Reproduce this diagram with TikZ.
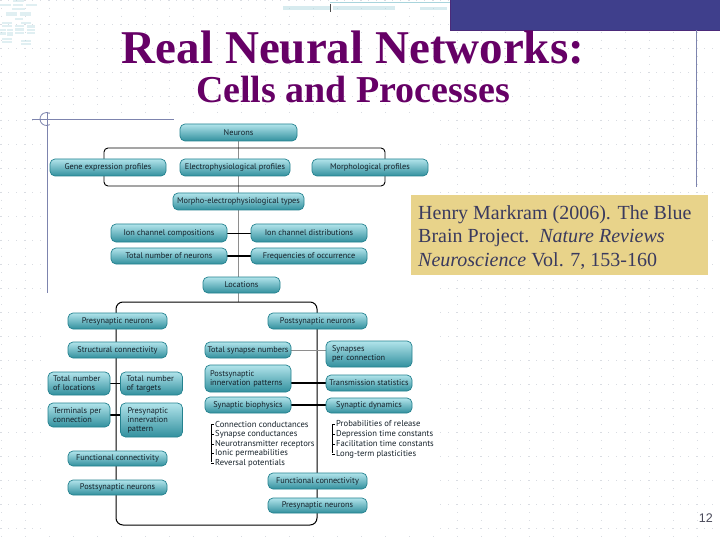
\documentclass[tikz,border=0pt]{standalone}
\usepackage{fontspec}
\setmainfont{Liberation Serif}
\newfontfamily\dfont{PT Sans}
\newfontfamily\pfont{Liberation Sans}
\definecolor{titlec}{HTML}{660066}
\definecolor{bandc}{HTML}{3F3F8C}
\definecolor{bandedge}{HTML}{4B2A7A}
\definecolor{decoc}{HTML}{7D84AE}
\definecolor{gridc}{HTML}{D9DCE2}
\definecolor{citec}{HTML}{E8D38A}
\definecolor{citetext}{HTML}{3A3A5E}
\definecolor{nedge}{HTML}{24828F}
\definecolor{ntop}{HTML}{B2E4EB}
\definecolor{nbot}{HTML}{32909E}
\definecolor{ntext}{HTML}{15212A}
\definecolor{vlinec}{HTML}{8E8E8E}
\definecolor{thumbc}{HTML}{A8D4DC}
\definecolor{pagec}{HTML}{4A4A5A}
\pgfdeclarelayer{gridlayer}
\pgfdeclarelayer{bg}
\pgfsetlayers{gridlayer,bg,main}
\begin{document}
\begin{tikzpicture}[x=1pt,y=-1pt,
  nbox/.style={draw=nedge, line width=0.7pt, rounded corners=5pt, top color=ntop, bottom color=nbot,
    text=ntext, font=\dfont\fontsize{8.3}{9}\selectfont, inner sep=0pt, align=center},
  lbox/.style={nbox, align=left},
  sz/.style 2 args={minimum width=#1pt, minimum height=#2pt},
  link/.style={draw=black, line width=0.9pt},
  tlink/.style={draw=black, line width=1.6pt},
  glink/.style={draw=vlinec, line width=0.8pt},
  listtxt/.style={text=ntext, font=\dfont\fontsize{8.6}{9}\selectfont, inner sep=0pt, anchor=west},
  deco/.style={draw=decoc, line width=0.8pt}
]
\useasboundingbox (0,0) rectangle (720,540);

% ---------- background ----------
\begin{pgfonlayer}{gridlayer}
  \fill[white] (0,0) rectangle (720,540);
  \foreach \x in {1,25,...,721}
    \draw[gridc, line width=0.7pt, dash pattern=on 0.7pt off 7.3pt] (\x,0) -- (\x,540);
  \foreach \y in {0,24,...,540}
    \draw[gridc, line width=0.7pt, dash pattern=on 0.7pt off 7.3pt] (0,\y) -- (720,\y);
  % diagram image area
  \fill[white] (45,119) rectangle (440,530);
  % top band
  \fill[bandc] (450,0) rectangle (720,30);
  \draw[bandedge, line width=0.8pt] (450,0) -- (450,30) -- (720,30);
  % decorative lines
  \draw[deco] (696,30) -- (696,187);
  \draw[deco] (32,119) -- (174,119);
  \draw[deco] (47,112) -- (47,293);
  \draw[deco] (46.5,119) ++(60:6.5) arc[start angle=60, end angle=300, radius=6.5];
  % faint thumbnails
  \foreach \cx/\cy/\w/\h in {238.5/132.5/117/17, 108/167.5/116/17, 235/167.5/110/17, 370/167.5/116/17,
      238.5/201.5/131/17, 169/233/116/18, 309/233/116/18, 169/256/116/16, 309/256/116/16, 241.5/285/77/16,
      117.5/321/99/16, 117.5/350/99/16, 79/383.5/62/23, 151.5/383.5/62/23, 79/415/62/24, 151.5/420/62/34,
      117.5/458.5/99/15, 117.5/487.5/99/15, 317.5/321/99/16, 248/350/86/16, 369/354/86/26, 248/378.5/86/27,
      369/383/86/16, 248/405/86/16, 369/405.5/86/15, 317.5/481/99/16, 317.5/505.5/99/15}
    \fill[thumbc, opacity=0.35] ({(\cx-\w/2-48)*0.097},{(\cy-\h/2-124)*0.116}) rectangle ++({\w*0.097},{\h*0.116});
  \fill[thumbc, opacity=0.45] (283,6) rectangle (330,10);
  \fill[thumbc, opacity=0.45] (333,6) rectangle (395,10);
  \fill[thumbc, opacity=0.45] (420,7) rectangle (447,10);
  \draw[thumbc, line width=0.6pt] (330,2) -- (450,2);
  \draw[black!70, line width=0.8pt] (330,4) -- (330,12);
\end{pgfonlayer}

% ---------- title ----------
\node[font=\fontsize{47}{50}\selectfont\bfseries, text=titlec, anchor=base, inner sep=0pt] (t1) at (353,64) {Real Neural Networks:};
\node[font=\fontsize{38}{40}\selectfont\bfseries, text=titlec, anchor=base, inner sep=0pt] (t2) at (353,103) {Cells and Processes};

% ---------- citation ----------
\fill[citec] (411,195) rectangle (708,275);
\node[font=\fontsize{20}{23}\selectfont, text=citetext, anchor=base west, inner sep=0pt] (c1) at (418,219) {Henry Markram (2006). The Blue};
\node[font=\fontsize{20}{23}\selectfont, text=citetext, anchor=base west, inner sep=0pt] (c2) at (418,243) {Brain Project.\ \ \textit{Nature Reviews}};
\node[font=\fontsize{20}{23}\selectfont, text=citetext, anchor=base west, inner sep=0pt] (c3) at (418,266) {\textit{Neuroscience} Vol. 7, 153-160};

% ---------- page number ----------
\node[font=\pfont\fontsize{12.5}{13}\selectfont, text=pagec, anchor=base east, inner sep=0pt] (pg) at (713,522) {12};

% ---------- upper diagram ----------
\node[nbox, sz={117}{17}] (neurons) at (238.5,132.5) {Neurons};
\node[nbox, sz={116}{17}] (gene) at (108,167.5) {Gene expression profiles};
\node[nbox, sz={110}{17}] (electro) at (235,167.5) {Electrophysiological profiles};
\node[nbox, sz={116}{17}] (morph) at (370,167.5) {Morphological profiles};
\node[nbox, sz={131}{17}] (mtypes) at (238.5,201.5) {Morpho-electrophysiological types};
\node[nbox, sz={116}{18}] (ioncomp) at (169,233) {Ion channel compositions};
\node[nbox, sz={116}{18}] (iondist) at (309,233) {Ion channel distributions};
\node[nbox, sz={116}{16}] (totneur) at (169,256) {Total number of neurons};
\node[nbox, sz={116}{16}] (freq) at (309,256) {Frequencies of occurrence};
\node[nbox, sz={77}{16}] (loc) at (241.5,285) {Locations};

% ---------- lower diagram ----------
\node[nbox, sz={99}{16}] (pre1) at (117.5,321) {Presynaptic neurons};
\node[nbox, sz={99}{16}] (struct) at (117.5,350) {Structural connectivity};
\node[lbox, sz={62}{23}, text width=52pt] (totloc) at (79,383.5) {Total number\\of locations};
\node[lbox, sz={62}{23}, text width=50pt] (tottarg) at (151.5,383.5) {Total number\\of targets};
\node[lbox, sz={62}{24}, text width=52pt] (term) at (79,415) {Terminals per\\connection};
\node[lbox, sz={62}{34}, text width=48pt] (preinn) at (151.5,420) {Presynaptic\\innervation\\pattern};
\node[nbox, sz={99}{15}] (func1) at (117.5,458.5) {Functional connectivity};
\node[nbox, sz={99}{15}] (post1) at (117.5,487.5) {Postsynaptic neurons};

\node[nbox, sz={99}{16}] (post2) at (317.5,321) {Postsynaptic neurons};
\node[nbox, sz={86}{16}] (totsyn) at (248,350) {Total synapse numbers};
\node[lbox, sz={86}{26}, text width=74pt] (synper) at (369,354) {Synapses\\per connection};
\node[lbox, sz={86}{27}, text width=76pt] (postinn) at (248,378.5) {Postsynaptic\\innervation patterns};
\node[nbox, sz={86}{16}] (trans) at (369,383) {Transmission statistics};
\node[nbox, sz={86}{16}] (biophys) at (248,405) {Synaptic biophysics};
\node[nbox, sz={86}{15}] (dyn) at (369,405.5) {Synaptic dynamics};
\node[nbox, sz={99}{16}] (func2) at (317.5,481) {Functional connectivity};
\node[nbox, sz={99}{15}] (pre2) at (317.5,505.5) {Presynaptic neurons};

% lists
\node[listtxt] (la1) at (215,424) {Connection conductances};
\node[listtxt] (la2) at (215,434) {Synapse conductances};
\node[listtxt] (la3) at (215,444) {Neurotransmitter receptors};
\node[listtxt] (la4) at (215,453.5) {Ionic permeabilities};
\node[listtxt] (la5) at (215,463) {Reversal potentials};
\node[listtxt] (lb1) at (336,424) {Probabilities of release};
\node[listtxt] (lb2) at (336,434) {Depression time constants};
\node[listtxt] (lb3) at (336,444) {Facilitation time constants};
\node[listtxt] (lb4) at (336,454) {Long-term plasticities};

\coordinate (ftop) at (239,302);
\coordinate (fnw) at (116,302);
\coordinate (fse) at (317,525);
\coordinate (bnw) at (104,148);
\coordinate (bse) at (385,186);
\coordinate (ba) at (211,0);
\coordinate (bb) at (332,0);

% ---------- connectors ----------
\begin{pgfonlayer}{bg}
  \draw[vlinec, line width=1.3pt] (neurons.south) -- (neurons.south |- ftop);
  \draw[black, line width=0.9pt, rounded corners=4pt] (bnw) rectangle (bse);
  \draw[black, line width=1pt, rounded corners=7pt] (fnw) rectangle (fse);
  \draw[link] (ioncomp.east) -- (iondist.west);
  \draw[tlink] (totneur.east) -- (freq.west);
  \draw[link] (totloc.east) -- (tottarg.west);
  \draw[tlink] (term.east) -- (term.east -| preinn.west);
  \draw[glink] (totsyn.east) -- (totsyn.east -| synper.west);
  \draw[tlink] (postinn.east |- trans.west) -- (trans.west);
  \draw[tlink] (biophys.east) -- (biophys.east -| dyn.west);
\end{pgfonlayer}
\draw[black, line width=0.8pt] ([yshift=-1pt]la1.west -| ba) -- ([yshift=1pt]la5.west -| ba);
\foreach \n in {la1,la2,la3,la4,la5}
  \draw[black, line width=0.8pt] (\n.west -| ba) -- ++(3,0);
\draw[black, line width=0.8pt] ([yshift=-1pt]lb1.west -| bb) -- ([yshift=1pt]lb4.west -| bb);
\foreach \n in {lb1,lb2,lb3,lb4}
  \draw[black, line width=0.8pt] (\n.west -| bb) -- ++(3,0);
\end{tikzpicture}
\end{document}
